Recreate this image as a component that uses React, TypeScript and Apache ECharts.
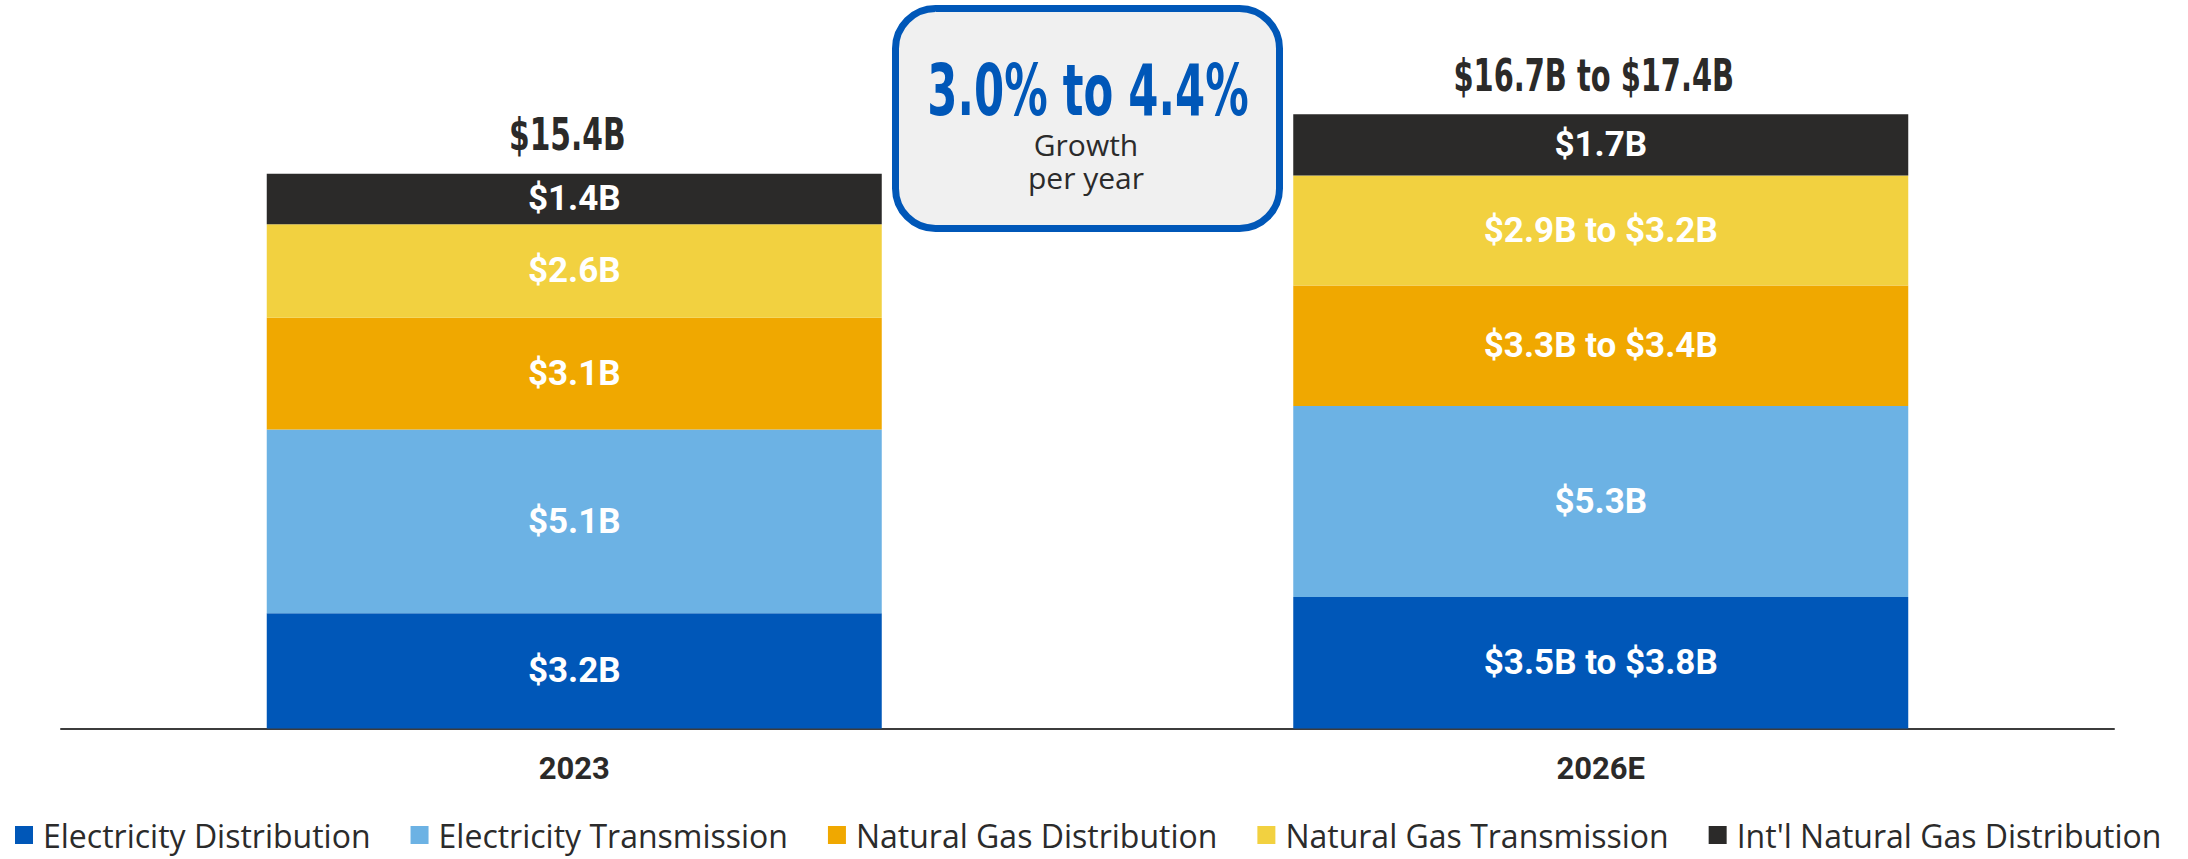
import React, { useEffect, useRef } from "react";
import * as echarts from "echarts";

// ---- Data ----
const categories = ["2023", "2026E"];

const seriesNames = [
  "Electricity Distribution",
  "Electricity Transmission",
  "Natural Gas Distribution",
  "Natural Gas Transmission",
  "Int'l Natural Gas Distribution",
];

const elecDist = [3.2, 3.65];
const elecTrans = [5.1, 5.3];
const gasDist = [3.1, 3.35];
const gasTrans = [2.6, 3.05];
const intlGas = [1.4, 1.7];

const elecDistLabels = ["$3.2B", "$3.5B to $3.8B"];
const elecTransLabels = ["$5.1B", "$5.3B"];
const gasDistLabels = ["$3.1B", "$3.3B to $3.4B"];
const gasTransLabels = ["$2.6B", "$2.9B to $3.2B"];
const intlGasLabels = ["$1.4B", "$1.7B"];

const totalLabels = ["$15.4B", "$16.7B to $17.4B"];
const growthRange = "3.0% to 4.4%";
const growthLines = ["Growth", "per year"];

const colors = ["#0057B8", "#6CB2E4", "#F0A800", "#F2D140", "#2B2A29"];

const COND = "'DejaVu Sans Condensed', 'Liberation Sans Narrow', Roboto, sans-serif";

export default function App() {
  const ref = useRef<HTMLDivElement>(null);

  useEffect(() => {
    document.body.style.margin = "0";
    if (!ref.current) return;
    const chart = echarts.init(ref.current, undefined, { renderer: "svg" });

    const values = [elecDist, elecTrans, gasDist, gasTrans, intlGas];
    const labels = [elecDistLabels, elecTransLabels, gasDistLabels, gasTransLabels, intlGasLabels];

    const segSeries = seriesNames.map((name, i) => ({
      name,
      type: "bar",
      stack: "total",
      barWidth: 615,
      data: values[i],
      itemStyle: { color: colors[i] },
      label: {
        show: true,
        position: "inside",
        color: "#ffffff",
        fontFamily: "Roboto, sans-serif",
        fontWeight: "bold",
        fontSize: 35,
        formatter: (p: any) => labels[i][p.dataIndex],
      },
    }));

    const calloutGraphics = [
      {
        type: "rect",
        shape: { x: 895.5, y: 8.5, width: 384, height: 220, r: 40 },
        style: { fill: "#F0F0F0", stroke: "#0057B8", lineWidth: 7 },
        z: 10,
      },
      {
        type: "text",
        x: 1088,
        y: 90,
        scaleX: 0.67,
        style: {
          text: growthRange,
          fill: "#0057B8",
          font: `bold 72px ${COND}`,
          textAlign: "center",
          textVerticalAlign: "middle",
        },
        z: 11,
      },
      {
        type: "text",
        x: 1086,
        y: 160.5,
        style: {
          text: growthLines.join("\n"),
          fill: "#2B2B2B",
          font: "30px 'Open Sans', sans-serif",
          lineHeight: 33,
          textAlign: "center",
          textVerticalAlign: "middle",
        },
        z: 11,
      },
    ];

    chart.setOption({
      animation: false,
      backgroundColor: "#ffffff",
      grid: { left: 61, right: 74, top: 8, bottom: 130.5, containLabel: false },
      xAxis: {
        type: "category",
        data: categories,
        axisLine: { lineStyle: { color: "#3C3C3C", width: 2 } },
        axisTick: { show: false },
        axisLabel: {
          margin: 24,
          color: "#2B2A29",
          fontFamily: "Roboto, sans-serif",
          fontWeight: "bold",
          fontSize: 31,
        },
      },
      yAxis: { type: "value", min: 0, max: 20, show: false, splitLine: { show: false } },
      legend: {
        data: seriesNames,
        left: 15,
        top: 819,
        padding: 0,
        icon: "rect",
        itemWidth: 18,
        itemHeight: 18,
        itemGap: 40,
        textStyle: {
          fontFamily: "'Open Sans', sans-serif",
          fontSize: 32,
          lineHeight: 32,
          color: "#2B2B2B",
          padding: [0, 0, 0, 5],
        },
      },
      series: segSeries,
      graphic: calloutGraphics,
    });

    // Total labels placed above each stack using the chart's own scales
    const totalTexts = categories.map((_, i) => {
      const total = values.reduce((s, arr) => s + arr[i], 0);
      const pt = chart.convertToPixel({ gridIndex: 0 }, [i, total]) as number[];
      return {
        type: "text",
        x: pt[0] - 7,
        y: pt[1] - 17,
        scaleX: i === 0 ? 0.75 : 0.73,
        style: {
          text: totalLabels[i],
          fill: "#2B2A29",
          font: `bold 44px ${COND}`,
          textAlign: "center",
          textVerticalAlign: "bottom",
        },
        z: 11,
      };
    });

    chart.setOption({ graphic: [...calloutGraphics, ...totalTexts] });

    return () => chart.dispose();
  }, []);

  return (
    <div
      ref={ref}
      style={{ position: "absolute", left: 0, top: 0, width: 2188, height: 859 }}
    />
  );
}
